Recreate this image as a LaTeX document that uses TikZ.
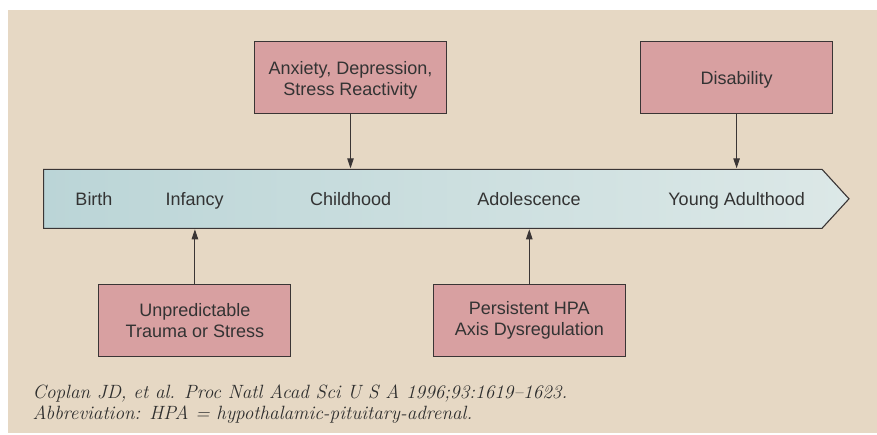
\documentclass[tikz,border=0pt]{standalone}
\usepackage{fontspec}
\setmainfont{Liberation Sans}
\newfontfamily\capfont[Ligatures=TeX]{Latin Modern Roman}
\usetikzlibrary{arrows.meta}
\definecolor{bgbeige}{HTML}{E6D8C4}
\definecolor{boxpink}{HTML}{D8A0A1}
\definecolor{linegray}{HTML}{3A3535}
\definecolor{txtgray}{HTML}{333333}
\definecolor{tlleft}{HTML}{BBD5D7}
\definecolor{tlright}{HTML}{DCE8E7}
\begin{document}
\begin{tikzpicture}[x=1pt,y=-1pt,
  pinkbox/.style={draw=linegray,line width=1.1pt,fill=boxpink,minimum width=192pt,minimum height=72pt,
    align=center,font=\fontsize{18}{21}\selectfont,text=txtgray,inner sep=0pt},
  boxtext/.style={align=center,font=\fontsize{18}{21}\selectfont,text=txtgray,inner sep=0pt},
  stage/.style={font=\fontsize{18}{21}\selectfont,text=txtgray,inner sep=0pt,anchor=base},
  conn/.style={draw=linegray,line width=0.9pt,-{Triangle[length=10pt,width=6.5pt]}},
  captxt/.style={font=\capfont\itshape\fontsize{19.2}{23}\selectfont,text=txtgray!90!black,anchor=base west,inner sep=0pt}]
\useasboundingbox (0,0) rectangle (877,434);
\fill[white] (0,0) rectangle (877,434);
\fill[bgbeige] (8,10) rectangle (877,433);
% timeline
\shade[left color=tlleft,right color=tlright] (43.6,169.3) -- (822,169.3) -- (849,198.8) -- (822,228.3) -- (43.6,228.3) -- cycle;
\draw[linegray,line width=1.1pt] (43.6,169.3) -- (822,169.3) -- (849,198.8) -- (822,228.3) -- (43.6,228.3) -- cycle;
\coordinate (tltop) at (0,168.3);
\coordinate (tlbot) at (0,229.3);
\node[stage] (birth) at (94,205.5) {Birth};
\node[stage] (infancy) at (194.6,205.5) {Infancy};
\node[stage] (childhood) at (350.7,205.5) {Childhood};
\node[stage] (adolescence) at (529,205.5) {Adolescence};
\node[stage] (young) at (736.6,205.5) {Young Adulthood};
% boxes
\node[pinkbox] (anx) at (350.5,77.5) {};
\node[boxtext] (anxtxt) at (350.5,80.5) {Anxiety, Depression,\\Stress Reactivity};
\node[pinkbox] (dis) at (736.6,77.5) {};
\node[boxtext] (distxt) at (736.6,80) {Disability};
\node[pinkbox] (trauma) at (194.9,320.5) {Unpredictable\\Trauma or Stress};
\node[pinkbox] (hpa) at (529.3,320.5) {Persistent HPA\\Axis Dysregulation};
% connectors
\draw[conn] (anx.south) -- (anx.south |- tltop);
\draw[conn] (dis.south) -- (dis.south |- tltop);
\draw[conn] (trauma.north) -- (trauma.north |- tlbot);
\draw[conn] (hpa.north) -- (hpa.north |- tlbot);
% caption
\node[captxt] (cap1) at (32.4,398.3) {Coplan JD, et al. Proc Natl Acad Sci U S A 1996;93:1619--1623.};
\node[captxt] (cap2) at (32.4,419.5) {Abbreviation: HPA = hypothalamic-pituitary-adrenal.};
\end{tikzpicture}
\end{document}
